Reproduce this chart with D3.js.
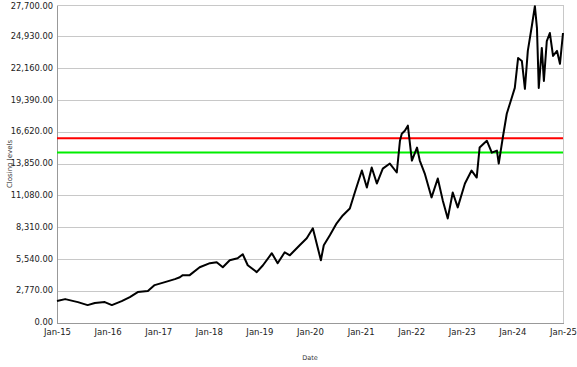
<!DOCTYPE html>
<html>
<head>
<meta charset="utf-8">
<script src="https://cdn.jsdelivr.net/npm/d3@7"></script>
<style>
  html, body { margin: 0; padding: 0; background: #fff; }
  svg { display: block; }
</style>
</head>
<body>
<svg id="chart" width="577" height="367"></svg>
<script>
// ---- data ----
const dates = [
  "2015-01-01","2015-03-01","2015-06-01","2015-08-10","2015-10-01","2015-12-12",
  "2016-02-01","2016-04-12","2016-06-10","2016-08-06","2016-10-18","2016-12-06",
  "2017-02-18","2017-05-01","2017-06-06","2017-06-27","2017-08-16","2017-10-27",
  "2018-01-09","2018-02-27","2018-04-12","2018-06-01","2018-07-28","2018-09-03",
  "2018-10-09","2018-12-13","2019-01-27","2019-04-01","2019-05-13","2019-07-03",
  "2019-08-09","2019-10-19","2019-12-09","2020-01-22","2020-03-20","2020-04-10",
  "2020-05-24","2020-07-12","2020-08-25","2020-10-15","2020-11-20","2021-01-10",
  "2021-02-15","2021-03-22","2021-04-28","2021-06-10","2021-07-31","2021-09-19",
  "2021-10-12","2021-10-25","2021-11-16","2021-12-08","2022-01-06","2022-02-12",
  "2022-03-04","2022-04-09","2022-05-28","2022-07-12","2022-08-17","2022-09-22",
  "2022-10-28","2022-12-03","2023-01-24","2023-03-13","2023-04-19","2023-05-10",
  "2023-07-01","2023-08-06","2023-09-12","2023-09-25","2023-10-25","2023-11-22",
  "2023-12-28","2024-01-19","2024-02-12","2024-03-10","2024-04-01","2024-04-22",
  "2024-05-21","2024-06-12","2024-06-27","2024-07-10","2024-08-01","2024-08-16",
  "2024-09-06","2024-09-28","2024-10-21","2024-11-19","2024-12-10","2025-01-01"
];
const closing = [
  1910, 2080, 1820, 1560, 1740, 1820,
  1560, 1910, 2260, 2690, 2780, 3300,
  3560, 3820, 3990, 4170, 4170, 4860,
  5210, 5300, 4860, 5470, 5640, 5990,
  5030, 4430, 5030, 6080, 5210, 6160,
  5900, 6770, 7380, 8250, 5470, 6770,
  7640, 8680, 9370, 9980, 11370, 13280,
  11800, 13540, 12150, 13450, 13890, 13110,
  15880, 16490, 16750, 17190, 14150, 15280,
  14150, 13020, 10940, 12590, 10680, 9110,
  11370, 10070, 12150, 13280, 12670, 15280,
  15880, 14840, 15020, 13890, 16200, 18230,
  19620, 20480, 23090, 22830, 20400, 23700,
  25870, 27600, 25690, 20480, 23960, 21090,
  24560, 25260, 23260, 23700, 22570, 25260
];
const yTicks = [0, 2770, 5540, 8310, 11080, 13850, 16620, 19390, 22160, 24930, 27700];
const xTickDates = ["2015-01-01","2016-01-01","2017-01-01","2018-01-01","2019-01-01","2020-01-01",
                    "2021-01-01","2022-01-01","2023-01-01","2024-01-01","2025-01-01"];
const refLevels = [16100, 14860];
const refColors = ["#ff0000", "#00ee00"];
const yTitle = "Closing levels";
const xTitle = "Date";

// ---- chart ----
const parse = d3.timeParse("%Y-%m-%d");
const data = dates.map((d, i) => ({ date: parse(d), value: closing[i] }));

const svg = d3.select("#chart");
const margin = { left: 57, right: 14, top: 5, bottom: 44 };
const W = 577, H = 367;
const x = d3.scaleTime()
  .domain([parse("2015-01-01"), parse("2025-01-01")])
  .range([margin.left, W - margin.right]);
const y = d3.scaleLinear()
  .domain([0, 27700])
  .range([H - margin.bottom, margin.top]);

// gridlines
svg.append("g")
  .selectAll("line")
  .data(yTicks)
  .join("line")
  .attr("x1", margin.left).attr("x2", W - margin.right)
  .attr("y1", d => y(d)).attr("y2", d => y(d))
  .attr("stroke", "#c8c8c8").attr("stroke-width", 1)
  .attr("shape-rendering", "crispEdges");

// right border
svg.append("line")
  .attr("x1", W - margin.right).attr("x2", W - margin.right)
  .attr("y1", margin.top).attr("y2", H - margin.bottom)
  .attr("stroke", "#c8c8c8").attr("shape-rendering", "crispEdges");

// y axis
const yAxis = svg.append("g")
  .attr("transform", `translate(${margin.left},0)`)
  .call(d3.axisLeft(y).tickValues(yTicks).tickSize(0).tickPadding(4)
    .tickFormat(d3.format(",.2f")));
yAxis.select(".domain").attr("stroke", "#999").attr("shape-rendering", "crispEdges");
yAxis.selectAll("text")
  .attr("font-family", "DejaVu Sans, Verdana, sans-serif")
  .attr("font-size", 8.3).attr("fill", "#222")
  .attr("dy", (d, i) => i === yTicks.length - 1 ? "0.45em" : "0.2em");

// x axis
const xAxis = svg.append("g")
  .attr("transform", `translate(0,${H - margin.bottom})`)
  .call(d3.axisBottom(x).tickValues(xTickDates.map(parse)).tickSize(0).tickPadding(6)
    .tickFormat(d3.timeFormat("%b-%y")));
xAxis.select(".domain").attr("stroke", "#999").attr("shape-rendering", "crispEdges");
xAxis.selectAll("text")
  .attr("font-family", "DejaVu Sans, Verdana, sans-serif")
  .attr("font-size", 8.5).attr("fill", "#222");

// reference lines
svg.append("g")
  .selectAll("line")
  .data(refLevels)
  .join("line")
  .attr("x1", margin.left).attr("x2", W - margin.right)
  .attr("y1", d => y(d)).attr("y2", d => y(d))
  .attr("stroke", (d, i) => refColors[i]).attr("stroke-width", 2);

// price line
svg.append("path")
  .datum(data)
  .attr("fill", "none")
  .attr("stroke", "#000")
  .attr("stroke-width", 2)
  .attr("stroke-linejoin", "round")
  .attr("d", d3.line().x(d => x(d.date)).y(d => y(d.value)));

// titles
svg.append("text")
  .attr("transform", `translate(12,${(margin.top + H - margin.bottom) / 2}) rotate(-90)`)
  .attr("text-anchor", "middle")
  .attr("font-family", "DejaVu Sans, Verdana, sans-serif")
  .attr("font-size", 7).attr("fill", "#333")
  .text(yTitle);

svg.append("text")
  .attr("x", (margin.left + W - margin.right) / 2)
  .attr("y", 360)
  .attr("text-anchor", "middle")
  .attr("font-family", "DejaVu Sans, Verdana, sans-serif")
  .attr("font-size", 6.5).attr("fill", "#333")
  .text(xTitle);
</script>
</body>
</html>
